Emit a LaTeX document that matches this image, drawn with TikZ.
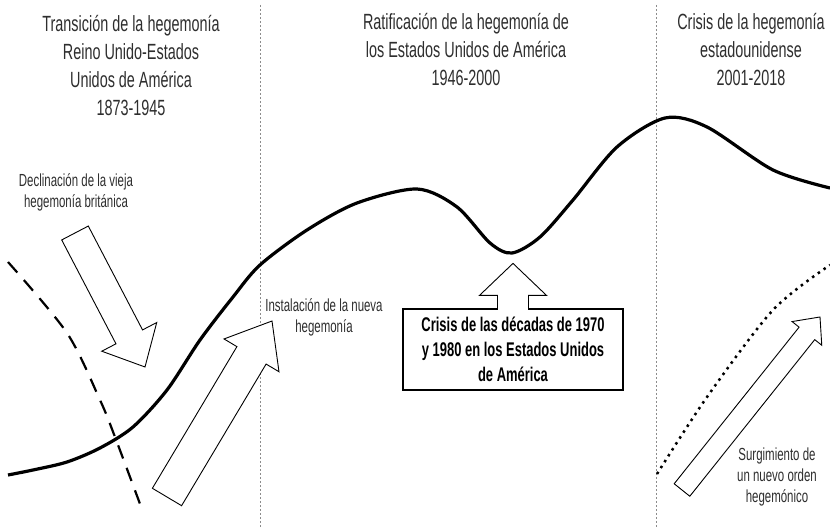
\documentclass[tikz,border=0pt]{standalone}
\usepackage{fontspec}
\setmainfont{Liberation Sans}[FakeStretch=0.655]
\usepackage{tikz}
\usepackage{xcolor}
\usetikzlibrary{calc}

\definecolor{textgray}{HTML}{2E2E2E}
\definecolor{linegray}{HTML}{8C8C8C}

\tikzset{
  title/.style={align=center, text=textgray, font=\fontsize{22}{28}\selectfont, inner sep=0pt},
  note/.style={align=center, text=textgray, font=\fontsize{17.5}{21}\selectfont, inner sep=0pt},
  period/.style={draw=linegray, line width=0.7pt, dash pattern=on 2pt off 2pt},
  blockarr/.style={draw=black, fill=white, line width=0.9pt, line join=miter},
  hegcurve/.style={line width=3.2pt},
  crisisbox/.style={draw, fill=white, line width=1.2pt, minimum width=220pt, minimum height=81pt,
    align=center, font=\bfseries\fontsize{19.8}{25}\selectfont},
}

% tail, tip, half shaft, half head, head length
\newcommand{\blockarrow}[5]{%
  \coordinate (ba-h) at ($(#2)!#5!(#1)$);
  \filldraw[blockarr] ($(#1)!#3!90:(#2)$) -- ($(ba-h)!#3!90:(#2)$) -- ($(ba-h)!#4!90:(#2)$) -- (#2)
    -- ($(ba-h)!#4!-90:(#2)$) -- ($(ba-h)!#3!-90:(#2)$) -- ($(#1)!#3!-90:(#2)$) -- cycle;
}

\begin{document}
\begin{tikzpicture}[x=1pt,y=1pt]
  \useasboundingbox (0,0) rectangle (830,527);

  % period separators
  \draw[period] (260,522) -- (260,0);
  \draw[period] (656,522) -- (656,0);

  % titles
  \node[title] (titleA) at (131,461.5) {Transición de la hegemonía\\Reino Unido-Estados\\Unidos de América\\1873-1945};
  \node[title] (titleB) at (466,477.5) {Ratificación de la hegemonía de\\los Estados Unidos de América\\1946-2000};
  \node[title] (titleC) at (751,477.5) {Crisis de la hegemonía\\estadounidense\\2001-2018};

  % old hegemony
  \draw[line width=2.2pt, dash pattern=on 14pt off 10pt] plot[smooth] coordinates {(8,265) (67,194) (100,127) (115,90) (143,15)};
  % new order
  \draw[line width=2.5pt, dash pattern=on 2.5pt off 4.5pt] plot[smooth] coordinates {(657,53) (707,130) (773,217) (830,262)};
  % hegemony curve
  \draw[hegcurve] plot[smooth] coordinates {(8,52) (33,57) (67,65) (100,79) (133,100) (167,137) (200,187)
    (233,230) (260,262) (307,297) (357,324) (417,338) (457,320) (490,284) (512,274) (540,290) (573,327)
    (617,380) (665,409) (707,400) (773,357) (830,339)};

  % block arrows
  \coordinate (decl tail) at (75,294);
  \coordinate (decl tip) at (145,160);
  \blockarrow{decl tail}{decl tip}{15pt}{31pt}{34pt}
  \coordinate (inst tail) at (167,30);
  \coordinate (inst tip) at (272,206);
  \blockarrow{inst tail}{inst tip}{17pt}{32pt}{40pt}
  \coordinate (surg tail) at (682,37);
  \coordinate (surg tip) at (820,210);
  \blockarrow{surg tail}{surg tip}{10pt}{19pt}{21pt}

  % crisis box
  \node[crisisbox] (crisis) at (513,177.5) {Crisis de las décadas de 1970\\y 1980 en los Estados Unidos\\de América};
  \coordinate (crisis tip) at ($(crisis.north)+(0,45)$);
  \path[blockarr] ($(crisis.north)+(-15.5,-1.5)$) -- ($(crisis.north)+(-15.5,13)$) -- ($(crisis.north)+(-33.5,13)$)
    -- (crisis tip) -- ($(crisis.north)+(33.5,13)$) -- ($(crisis.north)+(15.5,13)$) -- ($(crisis.north)+(15.5,-1.5)$);

  % labels
  \node[note] (declina) at (76,334.5) {Declinación de la vieja\\hegemonía británica};
  \node[note] (instala) at (324,209.5) {Instalación de la nueva\\hegemonía};
  \node[note] (surge) at (777,50) {Surgimiento de\\un nuevo orden\\hegemónico};
\end{tikzpicture}
\end{document}
